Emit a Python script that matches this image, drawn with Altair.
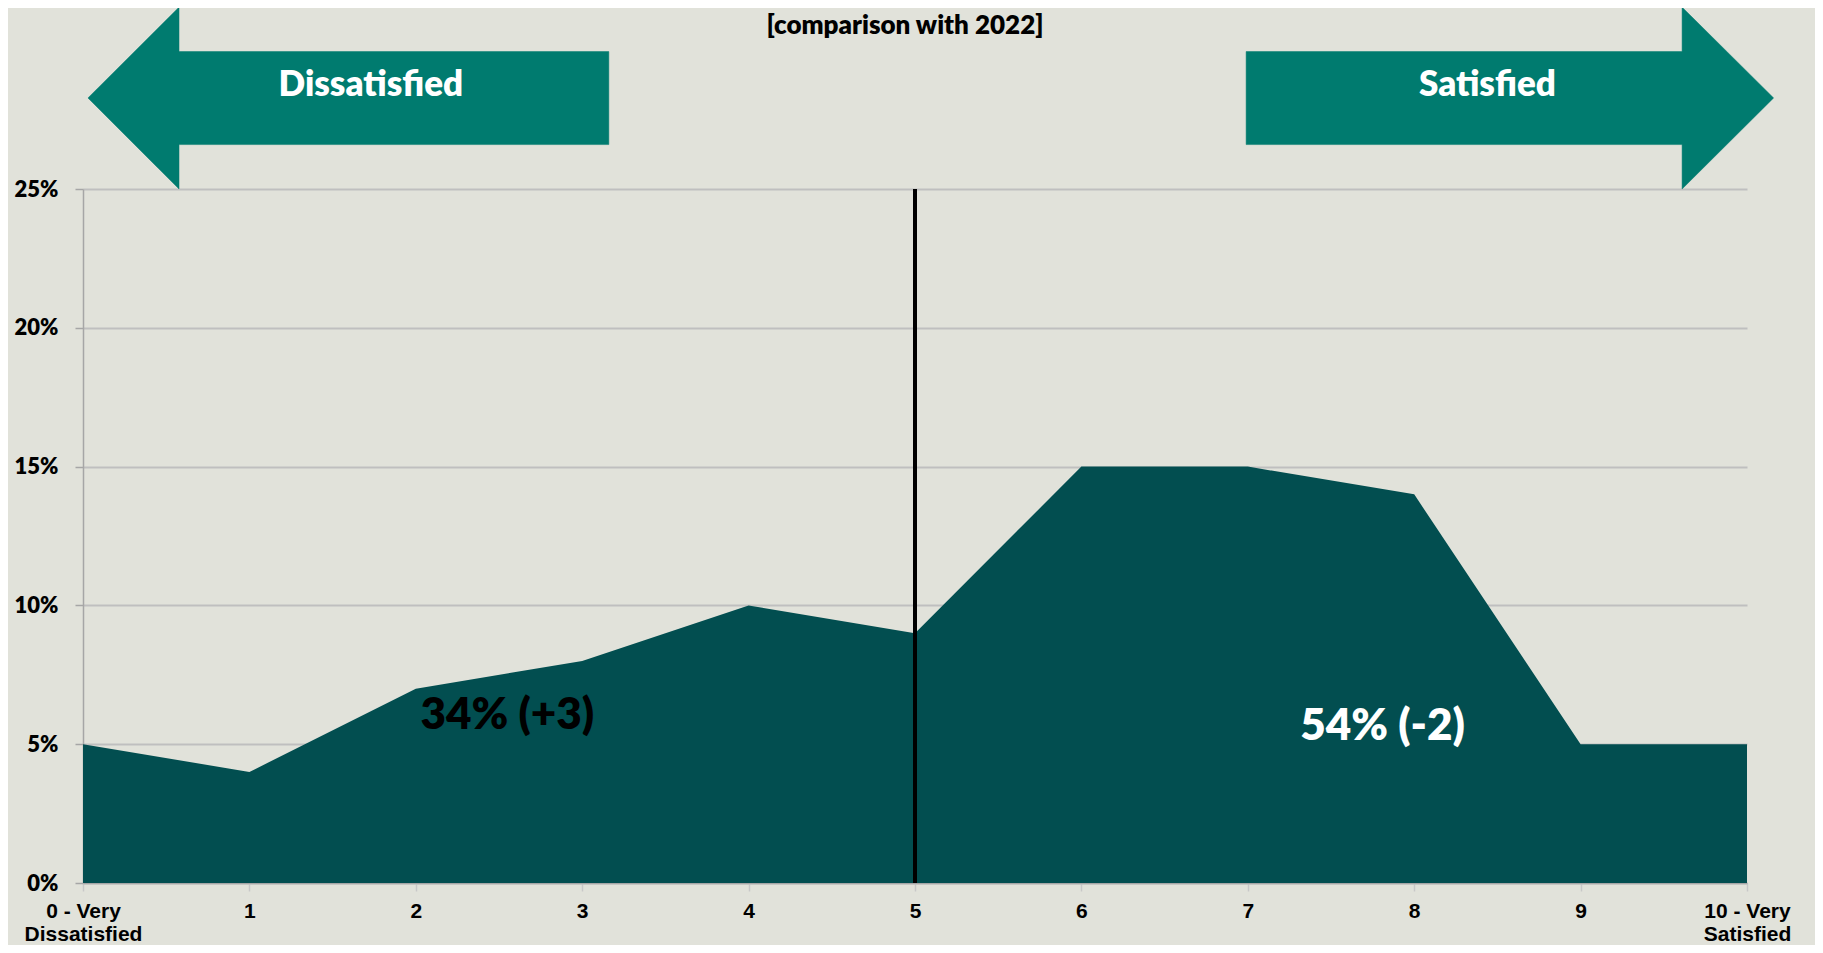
import json
import altair as alt
import pandas as pd

# ---------------- data ----------------
scores = list(range(11))
pct = [5, 4, 7, 8, 10, 9, 15, 15, 14, 5, 5]
x_label_lines = [["0 - Very", "Dissatisfied"], ["1"], ["2"], ["3"], ["4"], ["5"],
                 ["6"], ["7"], ["8"], ["9"], ["10 - Very", "Satisfied"]]
y_ticks = [0, 5, 10, 15, 20, 25]
divider_score = [5]
divider_top = [25]

# arrow outlines (in score / percent units)
arrow_name = ["left"] * 7 + ["right"] * 7
arrow_order = list(range(7)) + list(range(7))
arrow_x = [0.03, 0.577, 0.577, 3.16, 3.16, 0.577, 0.577,
           10.16, 9.61, 9.61, 6.99, 6.99, 9.61, 9.61]
arrow_y = [28.28, 31.55, 29.95, 29.95, 26.6, 26.6, 25.0,
           28.28, 31.55, 29.95, 29.95, 26.6, 26.6, 25.0]

# annotation texts
ann_text = ["Dissatisfied", "Satisfied", "34% (+3)", "54% (-2)", "[comparison with 2022]"]
ann_x = [1.73, 8.44, 2.55, 7.81, 4.94]
ann_y = [28.76, 28.76, 6.0, 5.63, 30.86]
ann_color = ["white", "white", "black", "white", "black"]
ann_size = [35, 35, 44, 44, 26]

# ---------------- styling ----------------
BG = "#E1E2DA"
AREA = "#024E50"
ARROW = "#007B6F"

area_df = pd.DataFrame({"x": scores, "y": pct})
rule_df = pd.DataFrame({"x": divider_score, "y": [0], "y2": divider_top})
arrow_df = pd.DataFrame({"name": arrow_name, "order": arrow_order, "x": arrow_x, "y": arrow_y})
ann_df = pd.DataFrame({"text": ann_text, "x": ann_x, "y": ann_y,
                       "color": ann_color, "size": ann_size})

x_axis = alt.Axis(
    values=scores,
    labelExpr=json.dumps(x_label_lines) + "[datum.value]",
    title=None, grid=False,
    domain=True, domainColor="#A6A6A6", domainWidth=1.5,
    ticks=True, tickColor="#C8C8C8", tickSize=8, tickWidth=1.5,
    labelFont="Liberation Sans", labelFontWeight="bold", labelFontSize=21,
    labelColor="black", labelPadding=9, labelLineHeight=23,
    labelFlush=False, labelOverlap=False, labelBaseline="top", labelAlign="center",
)
y_axis = alt.Axis(
    values=y_ticks,
    labelExpr="datum.value + '%'",
    title=None,
    grid=True, gridColor="#BFBFBF", gridWidth=2,
    domain=True, domainColor="#A6A6A6", domainWidth=1.5,
    ticks=True, tickColor="#A6A6A6", tickSize=8, tickWidth=1.5,
    labelFont="Lato", labelFontWeight=800, labelFontSize=22,
    labelColor="black", labelPadding=17,
)

x_scale = alt.Scale(domain=[0, 10], nice=False, zero=False)
y_scale = alt.Scale(domain=[0, 25], nice=False)

X = alt.X("x:Q", scale=x_scale, axis=x_axis)
Y = alt.Y("y:Q", scale=y_scale, axis=y_axis)

area = alt.Chart(area_df).mark_area(color=AREA, interpolate="linear").encode(x=X, y=Y)

rule = alt.Chart(rule_df).mark_rule(color="black", strokeWidth=4).encode(
    x=X, y=Y, y2="y2:Q"
)

arrows = alt.Chart(arrow_df).mark_line(
    fill=ARROW, stroke=ARROW, strokeWidth=0.5, interpolate="linear-closed"
).encode(x=X, y=Y, detail="name:N", order="order:Q")

texts = alt.Chart(ann_df).mark_text(
    font="Lato", fontWeight=800, align="center", baseline="middle"
).encode(
    x=X, y=Y, text="text:N",
    color=alt.Color("color:N", scale=None),
    size=alt.Size("size:Q", scale=None),
)

chart = alt.layer(area, rule, arrows, texts).properties(
    width=1664, height=694,
    padding={"left": 75, "top": 181, "right": 68, "bottom": 62},
    autosize=alt.AutoSizeParams(type="none"),
    background=BG,
).configure_view(stroke=None)

chart.save("out.html", embed_options={"renderer": "svg", "actions": False})
